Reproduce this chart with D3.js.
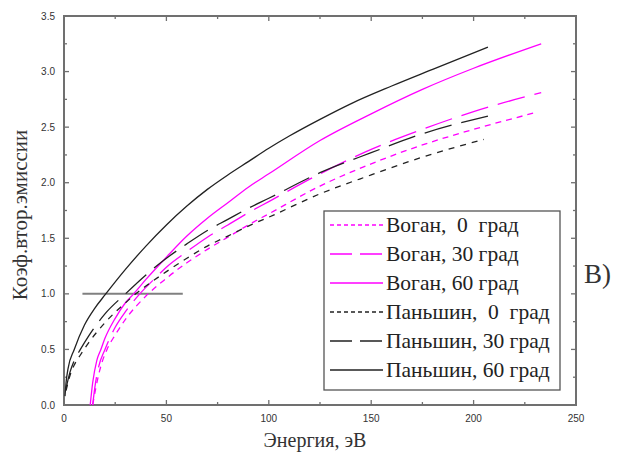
<!DOCTYPE html>
<html>
<head>
<meta charset="utf-8">
<script src="https://cdn.jsdelivr.net/npm/d3@7"></script>
<style>
  body { margin: 0; background: #fff; }
  svg text { white-space: pre; }
</style>
</head>
<body>
<div id="chart"></div>
<script>
// values: energy (eV) and yield
const voganE0 = [14, 15.5, 18, 21, 25, 30, 40, 50, 60, 70, 80, 90, 100, 125, 150, 175, 200, 230];
const voganV0 = [0, 0.15, 0.35, 0.5, 0.63, 0.77, 0.98, 1.14, 1.28, 1.4, 1.51, 1.62, 1.72, 1.97, 2.17, 2.34, 2.48, 2.63];
const voganE30 = [14, 15, 17, 20, 25, 30, 37, 45, 50, 60, 70, 80, 90, 100, 125, 150, 175, 200, 233];
const voganV30 = [0, 0.15, 0.35, 0.5, 0.7, 0.84, 1.0, 1.15, 1.24, 1.38, 1.51, 1.62, 1.73, 1.83, 2.08, 2.3, 2.48, 2.64, 2.81];
const voganE60 = [12.8, 14, 16, 18, 20, 25, 30, 34, 40, 50, 60, 70, 80, 90, 100, 125, 150, 175, 200, 233];
const voganV60 = [0, 0.2, 0.4, 0.5, 0.6, 0.78, 0.92, 1.0, 1.13, 1.33, 1.52, 1.68, 1.82, 1.96, 2.08, 2.38, 2.62, 2.84, 3.03, 3.25];
const panE0 = [1, 3, 5, 8, 12, 20, 30, 35, 40, 50, 60, 70, 80, 90, 100, 125, 150, 175, 205];
const panV0 = [0.13, 0.27, 0.36, 0.45, 0.56, 0.74, 0.92, 1.0, 1.07, 1.2, 1.32, 1.43, 1.52, 1.61, 1.69, 1.9, 2.07, 2.23, 2.39];
const panE30 = [1, 3, 5, 8, 12, 20, 30, 40, 50, 60, 70, 80, 90, 100, 125, 150, 175, 207];
const panV30 = [0.15, 0.3, 0.4, 0.5, 0.62, 0.82, 1.0, 1.17, 1.32, 1.45, 1.57, 1.67, 1.77, 1.86, 2.09, 2.27, 2.44, 2.6];
const panE60 = [0.5, 1, 2, 5, 10, 15, 20, 30, 40, 50, 60, 70, 80, 90, 100, 110, 125, 140, 160, 180, 207];
const panV60 = [0.08, 0.2, 0.33, 0.5, 0.72, 0.87, 0.99, 1.22, 1.43, 1.62, 1.79, 1.94, 2.07, 2.19, 2.31, 2.42, 2.57, 2.71, 2.87, 3.02, 3.22];

const seriesNames = ['Воган,  0  град', 'Воган, 30 град', 'Воган, 60 град',
  'Паньшин,  0  град', 'Паньшин, 30 град', 'Паньшин, 60 град'];
const seriesE = [voganE0, voganE30, voganE60, panE0, panE30, panE60];
const seriesV = [voganV0, voganV30, voganV60, panV0, panV30, panV60];
const seriesColor = ['#ff00ff', '#ff00ff', '#ff00ff', '#222', '#222', '#222'];
const seriesDash = ['6,5', '28,10', null, '6,6', '28,10', null];
const legendDash = ['4,3', '22,8', null, '4,3', '22,8', null];

// the threshold line at yield = 1
const unityE = [9, 58];
const unityV = [1, 1];

const xTicks = [0, 50, 100, 150, 200, 250];
const yTicks = [0, 0.5, 1, 1.5, 2, 2.5, 3, 3.5];

const width = 625, height = 452;
const mLeft = 64, mRight = 576, mTop = 16, mBottom = 405;

const svg = d3.select('#chart').append('svg')
  .attr('width', width)
  .attr('height', height);

const x = d3.scaleLinear().domain([0, 250]).range([mLeft, mRight]);
const y = d3.scaleLinear().domain([0, 3.5]).range([mBottom, mTop]);

const frame = '#707070';

// ticks on all four sides, pointing inward
const minorX = d3.range(0, 251, 25);
const minorY = d3.range(0, 3.51, 0.25);
const tickG = svg.append('g').attr('stroke', frame).attr('stroke-width', 1.3);
minorX.forEach(function (t) {
  const len = (t % 50 === 0) ? 5 : 3;
  tickG.append('line').attr('x1', x(t)).attr('x2', x(t)).attr('y1', mBottom).attr('y2', mBottom - len);
  tickG.append('line').attr('x1', x(t)).attr('x2', x(t)).attr('y1', mTop).attr('y2', mTop + len);
});
minorY.forEach(function (t) {
  const len = (Math.abs(t * 2 - Math.round(t * 2)) < 1e-6) ? 5 : 3;
  tickG.append('line').attr('x1', mLeft).attr('x2', mLeft + len).attr('y1', y(t)).attr('y2', y(t));
  tickG.append('line').attr('x1', mRight).attr('x2', mRight - len).attr('y1', y(t)).attr('y2', y(t));
});

svg.append('rect')
  .attr('x', mLeft).attr('y', mTop)
  .attr('width', mRight - mLeft).attr('height', mBottom - mTop)
  .attr('fill', 'none').attr('stroke', frame).attr('stroke-width', 2);

svg.append('g').selectAll('text')
  .data(xTicks).enter().append('text')
  .attr('x', d => x(d)).attr('y', 422)
  .attr('text-anchor', 'middle')
  .style('font-family', 'Liberation Sans Narrow, Arial Narrow, Liberation Sans, sans-serif')
  .style('font-size', '10px')
  .attr('fill', '#333')
  .text(d => d);

svg.append('g').selectAll('text')
  .data(yTicks).enter().append('text')
  .attr('x', 55).attr('y', d => y(d) + 3.5)
  .attr('text-anchor', 'end')
  .style('font-family', 'Liberation Sans Narrow, Arial Narrow, Liberation Sans, sans-serif')
  .style('font-size', '10px')
  .attr('fill', '#333')
  .text(d => d.toFixed(1));

// horizontal line at 1
svg.append('path')
  .attr('d', d3.line().x(d => x(d[0])).y(d => y(d[1]))(d3.zip(unityE, unityV)))
  .attr('stroke', '#808080').attr('stroke-width', 2).attr('fill', 'none');

const line = d3.line()
  .x(d => x(d[0]))
  .y(d => y(d[1]))
  .curve(d3.curveMonotoneX);

seriesNames.forEach(function (name, i) {
  svg.append('path')
    .attr('d', line(d3.zip(seriesE[i], seriesV[i])))
    .attr('fill', 'none')
    .attr('stroke', seriesColor[i])
    .attr('stroke-width', 1.3)
    .attr('stroke-dasharray', seriesDash[i]);
});

// legend
const lg = svg.append('g');
lg.append('rect')
  .attr('x', 324).attr('y', 211).attr('width', 236).attr('height', 179)
  .attr('fill', '#fff').attr('stroke', '#555').attr('stroke-width', 1.3);
seriesNames.forEach(function (name, i) {
  const ry = 225 + i * 29;
  lg.append('line')
    .attr('x1', 330).attr('x2', 383).attr('y1', ry).attr('y2', ry)
    .attr('stroke', seriesColor[i]).attr('stroke-width', 1.3)
    .attr('stroke-dasharray', legendDash[i]);
  lg.append('text')
    .attr('x', 386).attr('y', ry + 7)
    .attr('fill', '#222')
    .style('font-family', 'Liberation Serif, Times New Roman, serif')
    .style('font-size', '21.5px')
    .text(name);
});

svg.append('text')
  .attr('transform', 'translate(27,215) rotate(-90)')
  .attr('text-anchor', 'middle')
  .attr('fill', '#333')
  .style('font-family', 'Liberation Serif, Times New Roman, serif')
  .style('font-size', '21px')
  .text('Коэф.втор.эмиссии');

svg.append('text')
  .attr('x', 315).attr('y', 447)
  .attr('text-anchor', 'middle')
  .attr('fill', '#333')
  .style('font-family', 'Liberation Serif, Times New Roman, serif')
  .style('font-size', '20px')
  .text('Энергия, эВ');

svg.append('text')
  .attr('x', 584).attr('y', 283)
  .attr('fill', '#333')
  .style('font-family', 'Liberation Serif, Times New Roman, serif')
  .style('font-size', '27px')
  .text('В)');
</script>
</body>
</html>
